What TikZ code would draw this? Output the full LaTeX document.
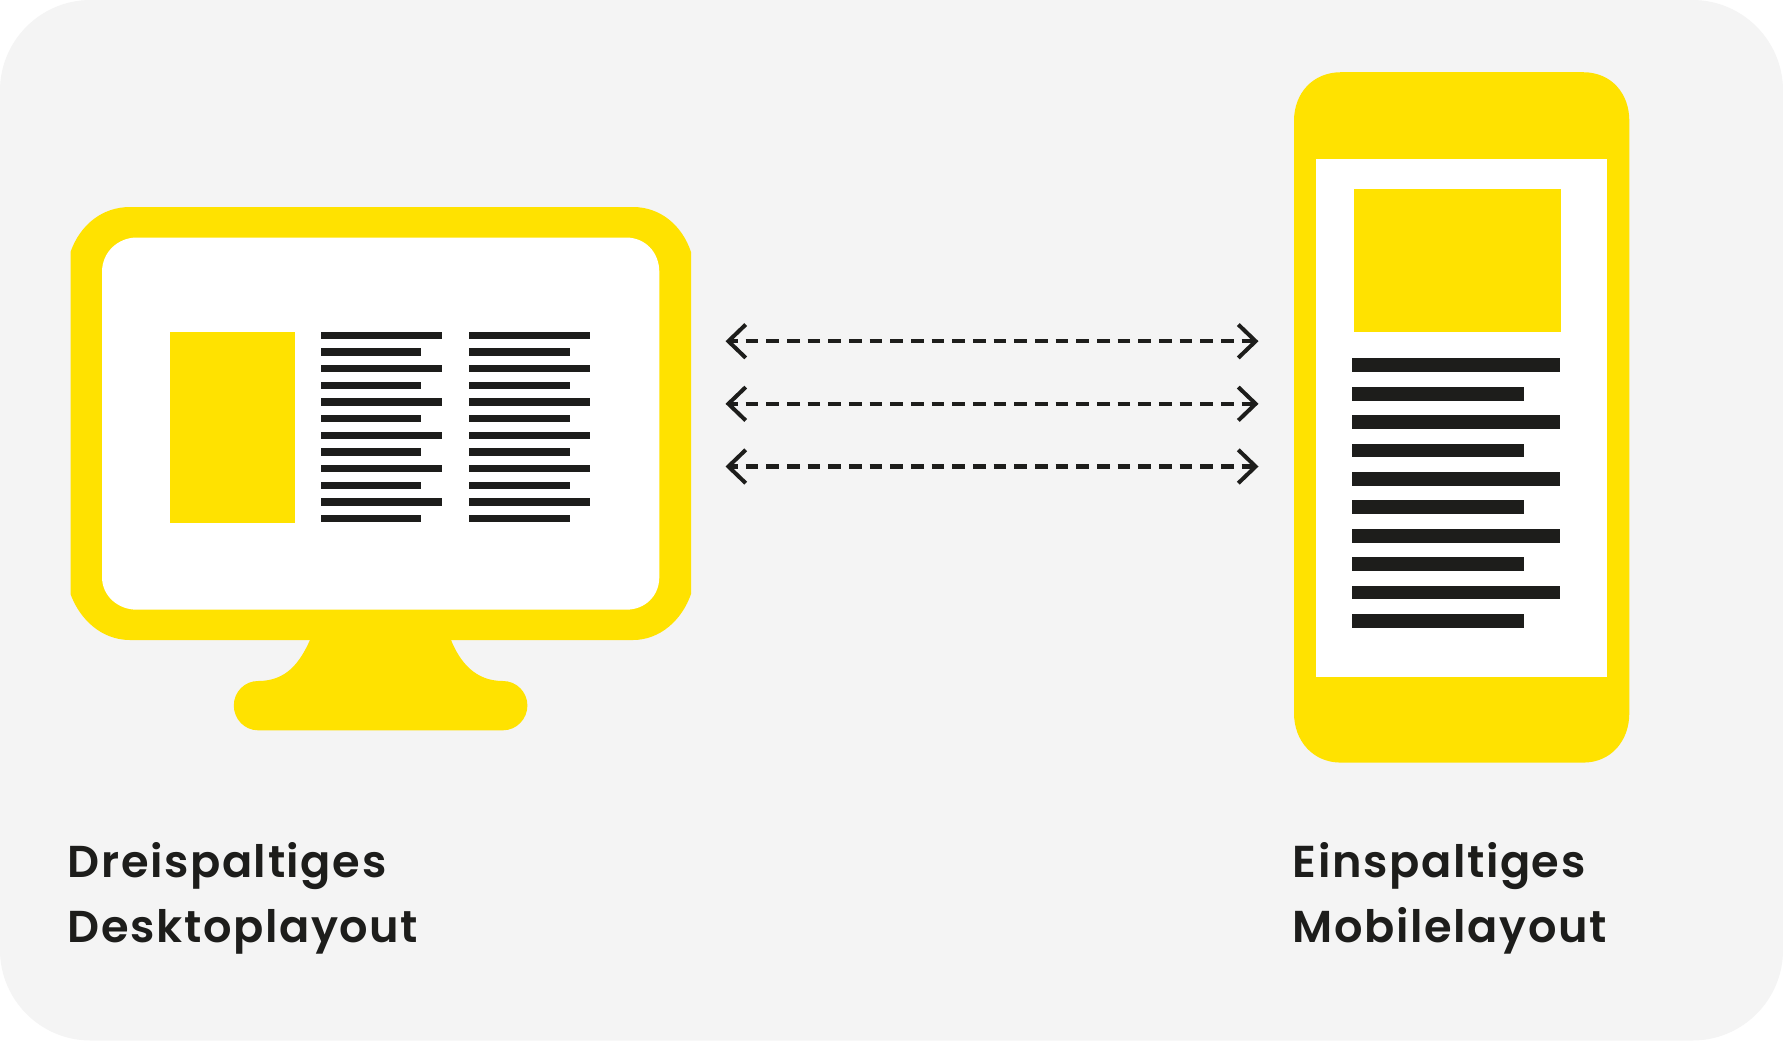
\documentclass[tikz,border=0pt]{standalone}
\usepackage{fontspec}
\setmainfont{Poppins SemiBold}[LetterSpace=3.6]
\usetikzlibrary{arrows.meta}
\definecolor{ylw}{HTML}{FFE200}
\definecolor{ink}{HTML}{1D1D1B}
\definecolor{panel}{HTML}{F4F4F4}
\tikzset{
  x=0.75pt,y=-0.75pt,
  yfill/.style={fill=ylw,draw=none},
  wfill/.style={fill=white,draw=none},
  kfill/.style={fill=ink,draw=none},
  label/.style={anchor=base west,inner sep=0pt,text=ink,font=\fontsize{33.5}{35}\selectfont},
  dblarrow/.style={draw=ink,line width=3.3pt,dash pattern=on 9.5pt off 6pt,dash phase=4pt,
     {Straight Barb[length=13pt,width=25pt,line width=3pt]}-{Straight Barb[length=13pt,width=25pt,line width=3pt]}}
}
\begin{document}
\begin{tikzpicture}
\useasboundingbox (0,0) rectangle (1783,1040);
\fill[white] (0,0) rectangle (1783,1040);
\fill[panel,rounded corners=68pt] (0,0) rectangle (1783,1040.5);
% monitor
\path[yfill] (70.5,252) .. controls (80,225) and (102,207) .. (130,207) -- (633,207)
  .. controls (660,207) and (682,225) .. (691,252) -- (691,594)
  .. controls (682,620) and (660,640) .. (633,640) -- (451,640)
  .. controls (460,662) and (475,681) .. (503,681)
  .. controls (516.5,681) and (527.4,692) .. (527.4,705.5)
  .. controls (527.4,719) and (516.5,730.3) .. (503,730.3) -- (258,730.3)
  .. controls (244.5,730.3) and (233.8,719) .. (233.8,705.5)
  .. controls (233.8,692) and (244.5,681) .. (258,681)
  .. controls (287,681) and (300,662) .. (310,640) -- (130,640)
  .. controls (102,640) and (80,620) .. (70.5,594) -- cycle;
\path[wfill] (102,272) .. controls (102,252) and (118,237.5) .. (137,237.5) -- (626,237.5)
  .. controls (645,237.5) and (659.3,252) .. (659.3,272) -- (659.3,577)
  .. controls (659.3,596) and (645,609.7) .. (626,609.7) -- (137,609.7)
  .. controls (118,609.7) and (102,596) .. (102,577) -- cycle;
\path[yfill] (170,332) rectangle (295.4,522.7);
\foreach \i in {0,2,4,6,8,10}{
  \path[kfill] (320.6,{335.3+16.66*\i-3.7}) rectangle (441.6,{335.3+16.66*\i+3.7});
  \path[kfill] (320.6,{335.3+16.66*(\i+1)-3.7}) rectangle (421,{335.3+16.66*(\i+1)+3.7});
  \path[kfill] (468.9,{335.3+16.66*\i-3.7}) rectangle (589.9,{335.3+16.66*\i+3.7});
  \path[kfill] (468.9,{335.3+16.66*(\i+1)-3.7}) rectangle (569.5,{335.3+16.66*(\i+1)+3.7});
}
% phone
\path[yfill] (1294,120.8) .. controls (1294,93) and (1313,72.2) .. (1341,72.2) -- (1583,72.2)
  .. controls (1611,72.2) and (1629.3,93) .. (1629.3,120.8) -- (1629.3,713)
  .. controls (1629.3,741) and (1611,762.6) .. (1583,762.6) -- (1341,762.6)
  .. controls (1313,762.6) and (1294,741) .. (1294,713) -- cycle;
\path[wfill] (1316,158.5) rectangle (1607,676.5);
\path[yfill] (1353.8,189.2) rectangle (1561.2,331.7);
\foreach \i in {0,2,4,6,8}{
  \path[kfill] (1352,{365.3+28.41*\i-6.9}) rectangle (1560,{365.3+28.41*\i+6.9});
  \path[kfill] (1352,{365.3+28.41*(\i+1)-6.9}) rectangle (1524.3,{365.3+28.41*(\i+1)+6.9});
}
% arrows
\coordinate (la) at (725.5,341.2); \coordinate (ra) at (1258.5,341.2);
\coordinate (lb) at (725.5,403.8); \coordinate (rb) at (1258.5,403.8);
\coordinate (lc) at (725.5,466.5); \coordinate (rc) at (1258.5,466.5);
\draw[dblarrow] (la) -- (ra);
\draw[dblarrow] (lb) -- (rb);
\draw[dblarrow] (lc) -- (rc);
% labels
\node[label] (t1) at (67.5,877.5) {Dreispaltiges};
\node[label] (t2) at (67.5,942.5) {Desktoplayout};
\node[label] (t3) at (1292.5,877.5) {Einspaltiges};
\node[label] (t4) at (1292.5,942.5) {Mobilelayout};
\end{tikzpicture}
\end{document}
